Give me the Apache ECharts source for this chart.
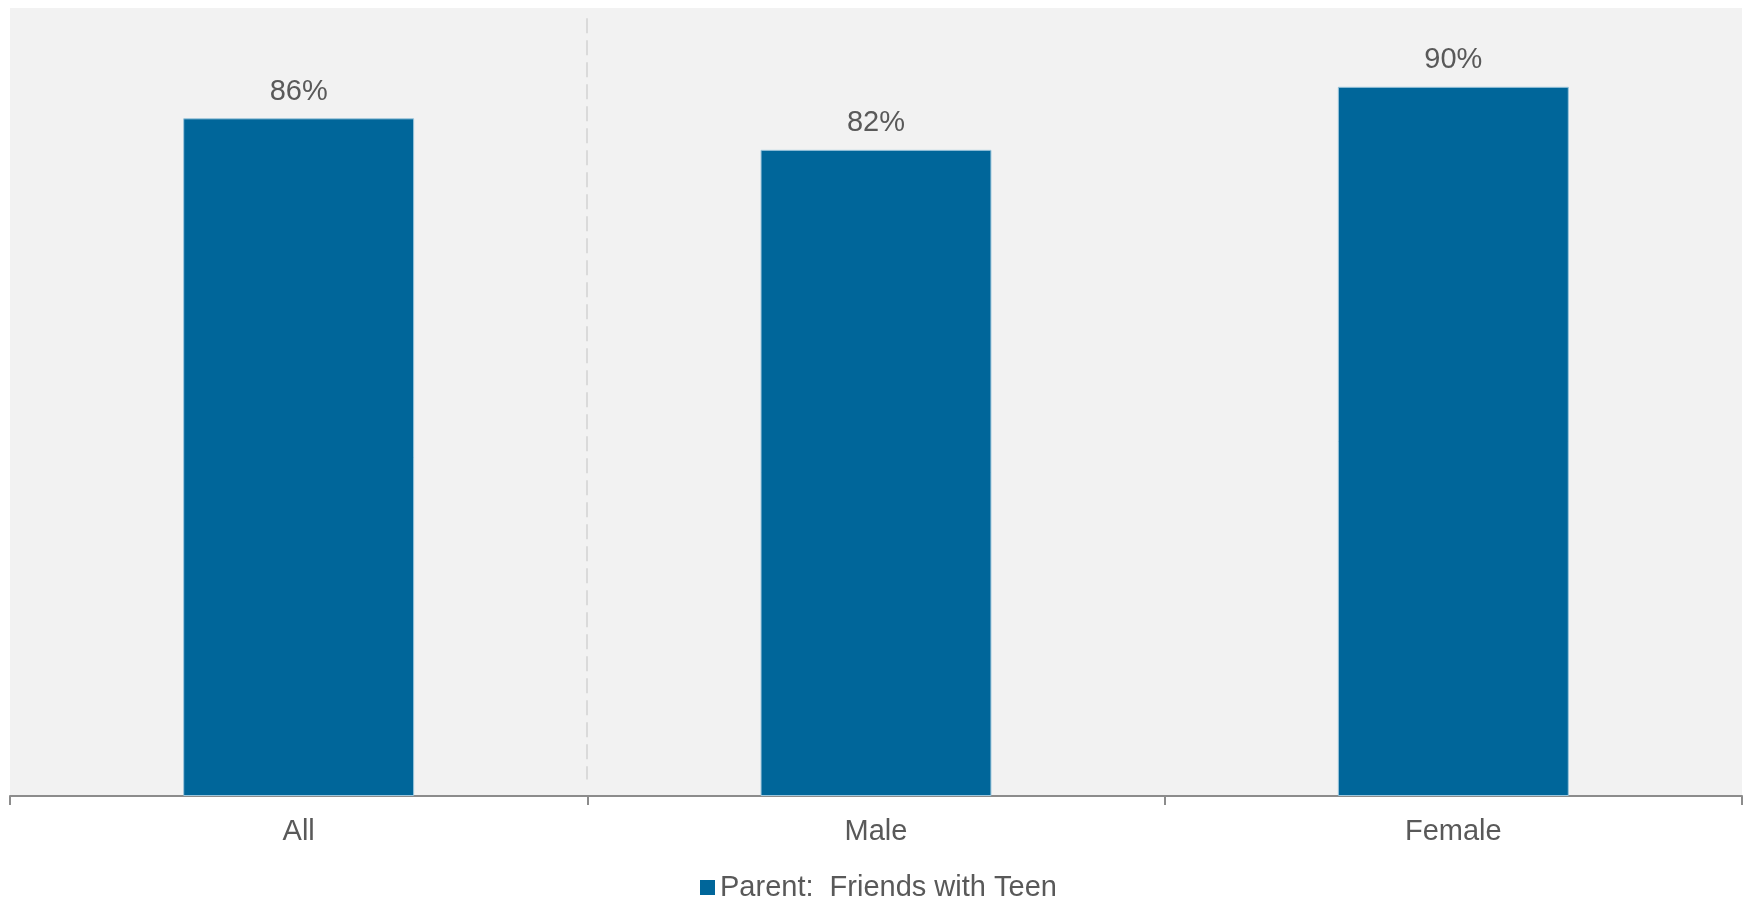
<!DOCTYPE html>
<html>
<head>
<meta charset="utf-8">
<script src="https://cdn.jsdelivr.net/npm/echarts@6/dist/echarts.min.js"></script>
<style>
html,body{margin:0;padding:0;background:#fff;}
#chart{width:1743px;height:903px;}
</style>
</head>
<body>
<div id="chart"></div>
<script>
const categories = ['All', 'Male', 'Female'];
const seriesName = 'Parent:  Friends with Teen';
const values = [86, 82, 90];

const FONT = '"Liberation Sans", Arial, Helvetica, sans-serif';
const TEXT = '#595959';

const chart = echarts.init(document.getElementById('chart'));
const option = {
  animation: false,
  textStyle: { fontFamily: FONT },
  grid: {
    left: 10, right: 1, top: 8, bottom: 107,
    show: true, backgroundColor: '#f2f2f2', borderWidth: 0
  },
  legend: {
    data: [seriesName],
    left: 700, top: 873, padding: 0,
    itemWidth: 15, itemHeight: 15, itemGap: 6,
    icon: 'rect',
    itemStyle: { borderWidth: 0, color: '#00669a' },
    textStyle: { fontSize: 29, color: TEXT, fontFamily: FONT }
  },
  xAxis: {
    type: 'category',
    data: categories,
    axisLine: { lineStyle: { color: '#8c8c8c', width: 2 } },
    axisTick: { show: true, length: 9, lineStyle: { color: '#8c8c8c', width: 2 } },
    axisLabel: { fontSize: 29, color: TEXT, margin: 21, fontFamily: FONT },
    splitLine: { show: false }
  },
  yAxis: {
    type: 'value', min: 0, max: 100,
    show: false,
    splitLine: { show: false }
  },
  series: [{
    name: seriesName,
    type: 'bar',
    data: values,
    barWidth: '40%',
    itemStyle: { color: '#00669a', borderColor: '#9cc6dc', borderWidth: 1 },
    label: {
      show: true, position: 'top', distance: 12,
      formatter: '{c}%', fontSize: 29, color: TEXT, fontFamily: FONT
    }
  }]
};
chart.setOption(option);

// Dashed separator between "All" and the gender categories
const x0 = chart.convertToPixel({ xAxisIndex: 0 }, 0);
const x1 = chart.convertToPixel({ xAxisIndex: 0 }, 1);
const sepX = Math.round((x0 + x1) / 2);
const yTop = chart.convertToPixel({ yAxisIndex: 0 }, 98.7);
const yBot = chart.convertToPixel({ yAxisIndex: 0 }, 2.1);
chart.setOption({
  graphic: [{
    type: 'line',
    shape: { x1: sepX, y1: yTop, x2: sepX, y2: yBot },
    style: { stroke: '#dadada', lineWidth: 2, lineDash: [15, 7] },
    z: 5
  }]
});
</script>
</body>
</html>
